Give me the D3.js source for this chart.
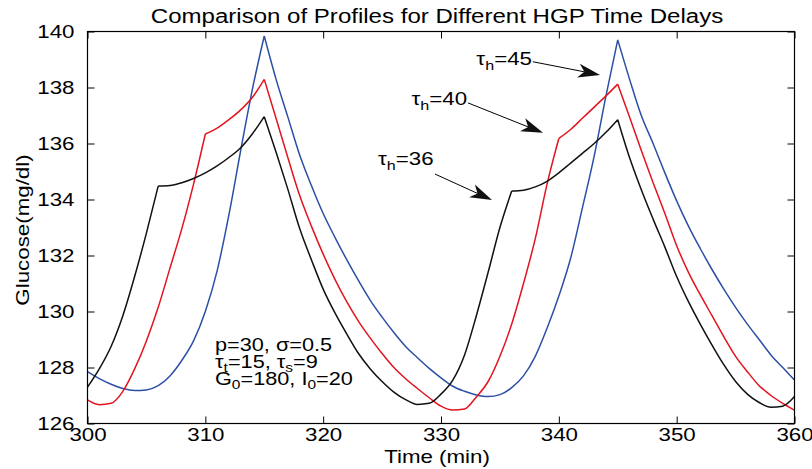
<!DOCTYPE html>
<html><head><meta charset="utf-8">
<script src="https://cdn.jsdelivr.net/npm/d3@7"></script>
<style>
body{margin:0;background:#fff}
text{font-family:"Liberation Sans",Arial,Helvetica,sans-serif;fill:#000}
</style>
</head><body>
<svg id="chart" width="812" height="469"></svg>
<script>
// ---- data ----
const timeMin = [300,301,302,303,304,305,306,307,308,309,310,311,312,313,314,315,316,317,318,319,320,
  321,322,323,324,325,326,327,328,329,330,331,332,333,334,335,336,337,338,339,340,
  341,342,343,344,345,346,347,348,349,350,351,352,353,354,355,356,357,358,359,360];

const glucoseTau36 = [127.30,127.95,128.75,129.85,131.25,132.80,134.48,134.50,134.60,134.75,134.95,
  135.20,135.50,135.85,136.35,136.96,135.70,134.37,132.97,131.85,130.80,
  129.95,129.20,128.50,127.95,127.50,127.12,126.85,126.68,126.72,127.05,
  127.55,128.45,129.85,131.40,133.00,134.30,134.33,134.45,134.65,134.95,
  135.30,135.65,136.00,136.40,136.85,135.50,134.35,133.30,132.30,131.25,
  130.35,129.55,128.80,128.10,127.50,127.05,126.75,126.58,126.62,126.96];

const glucoseTau40 = [126.84,126.67,126.72,127.15,127.95,128.95,130.15,131.55,132.95,134.55,136.34,
  136.55,136.85,137.20,137.65,138.29,136.90,135.50,134.15,133.05,132.05,
  131.15,130.35,129.65,129.05,128.50,128.00,127.60,127.25,126.92,126.62,
  126.48,126.52,126.95,127.50,128.40,129.55,131.00,132.60,134.55,136.18,
  136.50,136.90,137.30,137.70,138.12,136.95,135.75,134.60,133.50,132.35,
  131.40,130.60,129.85,129.10,128.40,127.85,127.35,127.00,126.72,126.48];

const glucoseTau45 = [127.85,127.60,127.40,127.25,127.18,127.20,127.35,127.70,128.25,128.95,130.00,
  131.45,133.45,135.75,137.95,139.84,138.30,136.95,135.60,134.50,133.50,
  132.65,131.85,131.10,130.40,129.80,129.25,128.75,128.35,127.97,127.63,
  127.33,127.15,127.02,126.96,127.03,127.28,127.70,128.40,129.40,130.55,
  131.90,133.70,135.55,137.70,139.70,138.30,137.00,136.00,134.95,133.95,
  133.05,132.25,131.50,130.80,130.15,129.55,129.00,128.45,128.00,127.55];

// times where each profile has a sharp corner (delay switch / peak)
const cornersTau36 = [306,315,336,345];
const cornersTau40 = [310,315,340,345];
const cornersTau45 = [315,345];

const xTickValues = [300,310,320,330,340,350,360];
const yTickValues = [126,128,130,132,134,136,138,140];
const titleText = "Comparison of Profiles for Different HGP Time Delays";
const xLabelText = "Time (min)";
const yLabelText = "Glucose(mg/dl)";

// ---- layout / style ----
const M = {left: 87.5, right: 794.5, top: 31.5, bottom: 423.5};
const SX = 1.24; // horizontal stretch of the reference's lettering
const colors = {"36":"#111111","40":"#e3141e","45":"#2c4fa6"};

const svg = d3.select("#chart");
const x = d3.scaleLinear().domain([300,360]).range([M.left, M.right]);
const y = d3.scaleLinear().domain([126,140]).range([M.bottom, M.top]);

const series = [
  {key:"45", values:glucoseTau45, corners:cornersTau45},
  {key:"40", values:glucoseTau40, corners:cornersTau40},
  {key:"36", values:glucoseTau36, corners:cornersTau36}
];

const line = d3.line().x(d=>x(d[0])).y(d=>y(d[1])).curve(d3.curveMonotoneX);
const plot = svg.append("g");
series.forEach(s=>{
  const pts = timeMin.map((t,i)=>[t, s.values[i]]);
  // split into smooth pieces at the corners
  const pieces = [];
  let cur = [];
  pts.forEach(p=>{
    cur.push(p);
    if (s.corners.includes(p[0])) { pieces.push(cur); cur = [p]; }
  });
  if (cur.length>1) pieces.push(cur);
  const d = pieces.map(pc=>line(pc)).join("");
  plot.append("path").attr("d",d)
    .attr("fill","none").attr("stroke",colors[s.key]).attr("stroke-width",1.5)
    .attr("stroke-linejoin","miter");
});

// ---- axes (ticks inward, box) ----
const fs = 18;
const xAxis = svg.append("g").attr("transform",`translate(0,${M.bottom})`)
  .call(d3.axisBottom(x).tickValues(xTickValues).tickFormat(d3.format("d")).tickSizeInner(-7).tickSizeOuter(0).tickPadding(5));
const yAxis = svg.append("g").attr("transform",`translate(${M.left},0)`)
  .call(d3.axisLeft(y).tickValues(yTickValues).tickFormat(d3.format("d")).tickSizeInner(-7).tickSizeOuter(0).tickPadding(13));
const xTop = svg.append("g").attr("transform",`translate(0,${M.top})`)
  .call(d3.axisTop(x).tickValues(xTickValues).tickFormat("").tickSizeInner(-7).tickSizeOuter(0));
const yRight = svg.append("g").attr("transform",`translate(${M.right},0)`)
  .call(d3.axisRight(y).tickValues(yTickValues).tickFormat("").tickSizeInner(-7).tickSizeOuter(0));
[xAxis,yAxis,xTop,yRight].forEach(g=>{
  g.select(".domain").remove();
  g.selectAll(".tick line").attr("stroke","#000").attr("stroke-width",1);
  g.selectAll("text").attr("font-size",fs).attr("font-family",null).attr("fill","#000");
});
xAxis.selectAll("text").attr("transform",`scale(${SX},1)`);
yAxis.selectAll("text").attr("x",-13/SX).attr("transform",`scale(${SX},1)`);
svg.append("rect").attr("x",M.left).attr("y",M.top)
  .attr("width",M.right-M.left).attr("height",M.bottom-M.top)
  .attr("fill","none").attr("stroke","#000").attr("stroke-width",1.2);

// ---- texts ----
function stretchedText(px,py,size,anchor,rot){
  const g = svg.append("g").attr("transform",`translate(${px},${py})${rot?` rotate(${rot})`:""} scale(${SX},1)`);
  return g.append("text").attr("font-size",size).attr("text-anchor",anchor);
}
stretchedText(437, 22.5, 19.4, "middle").text(titleText);
stretchedText(437, 463, 18, "middle").text(xLabelText);
stretchedText(29, 230, 18, "middle", -90).text(yLabelText);

// ---- annotations (data coordinates) ----
const annotations = [
  {tau:"45", tx:333.00, ty:138.80, from:[337.8,138.92], to:[343.5,138.45]},
  {tau:"40", tx:327.50, ty:137.38, from:[332.29,137.45], to:[338.66,136.38]},
  {tau:"36", tx:324.65, ty:135.23, from:[329.49,134.91], to:[334.33,133.98]}
];
annotations.forEach(a=>{
  const t = stretchedText(x(a.tx), y(a.ty), 18, "start");
  t.append("tspan").text("τ");
  t.append("tspan").attr("dy",5).attr("font-size",13).text("h");
  t.append("tspan").attr("dy",-5).text("=" + a.tau);
  const x1=x(a.from[0]), y1=y(a.from[1]), x2=x(a.to[0]), y2=y(a.to[1]);
  const ang = Math.atan2(y2-y1,x2-x1);
  const L=22, Wd=7, notch=6;
  const bx = x2 - (L-notch)*Math.cos(ang), by = y2 - (L-notch)*Math.sin(ang);
  svg.append("line").attr("x1",x1).attr("y1",y1).attr("x2",bx).attr("y2",by)
    .attr("stroke","#000").attr("stroke-width",1);
  svg.append("path")
    .attr("d",`M0,0 L${-L},${-Wd} L${-L+notch},0 L${-L},${Wd} Z`)
    .attr("transform",`translate(${x2},${y2}) rotate(${ang*180/Math.PI})`)
    .attr("fill","#111");
});

// ---- parameter block ----
const block = [
  [["p=30, σ=0.5",0]],
  [["τ",0],["t",1],["=15, τ",0],["s",1],["=9",0]],
  [["G",0],["0",1],["=180, I",0],["0",1],["=20",0]]
];
const blockBase = [128.58,127.98,127.38];
block.forEach((parts,i)=>{
  const t = stretchedText(x(310.82), y(blockBase[i]), 17.5, "start");
  let sub=false;
  parts.forEach(([s,isSub])=>{
    const ts = t.append("tspan").text(s);
    if(isSub && !sub){ts.attr("dy",4).attr("font-size",12.5); sub=true;}
    else if(!isSub && sub){ts.attr("dy",-4); sub=false;}
    else if(isSub){ts.attr("font-size",12.5);}
  });
});
</script>
</body></html>
